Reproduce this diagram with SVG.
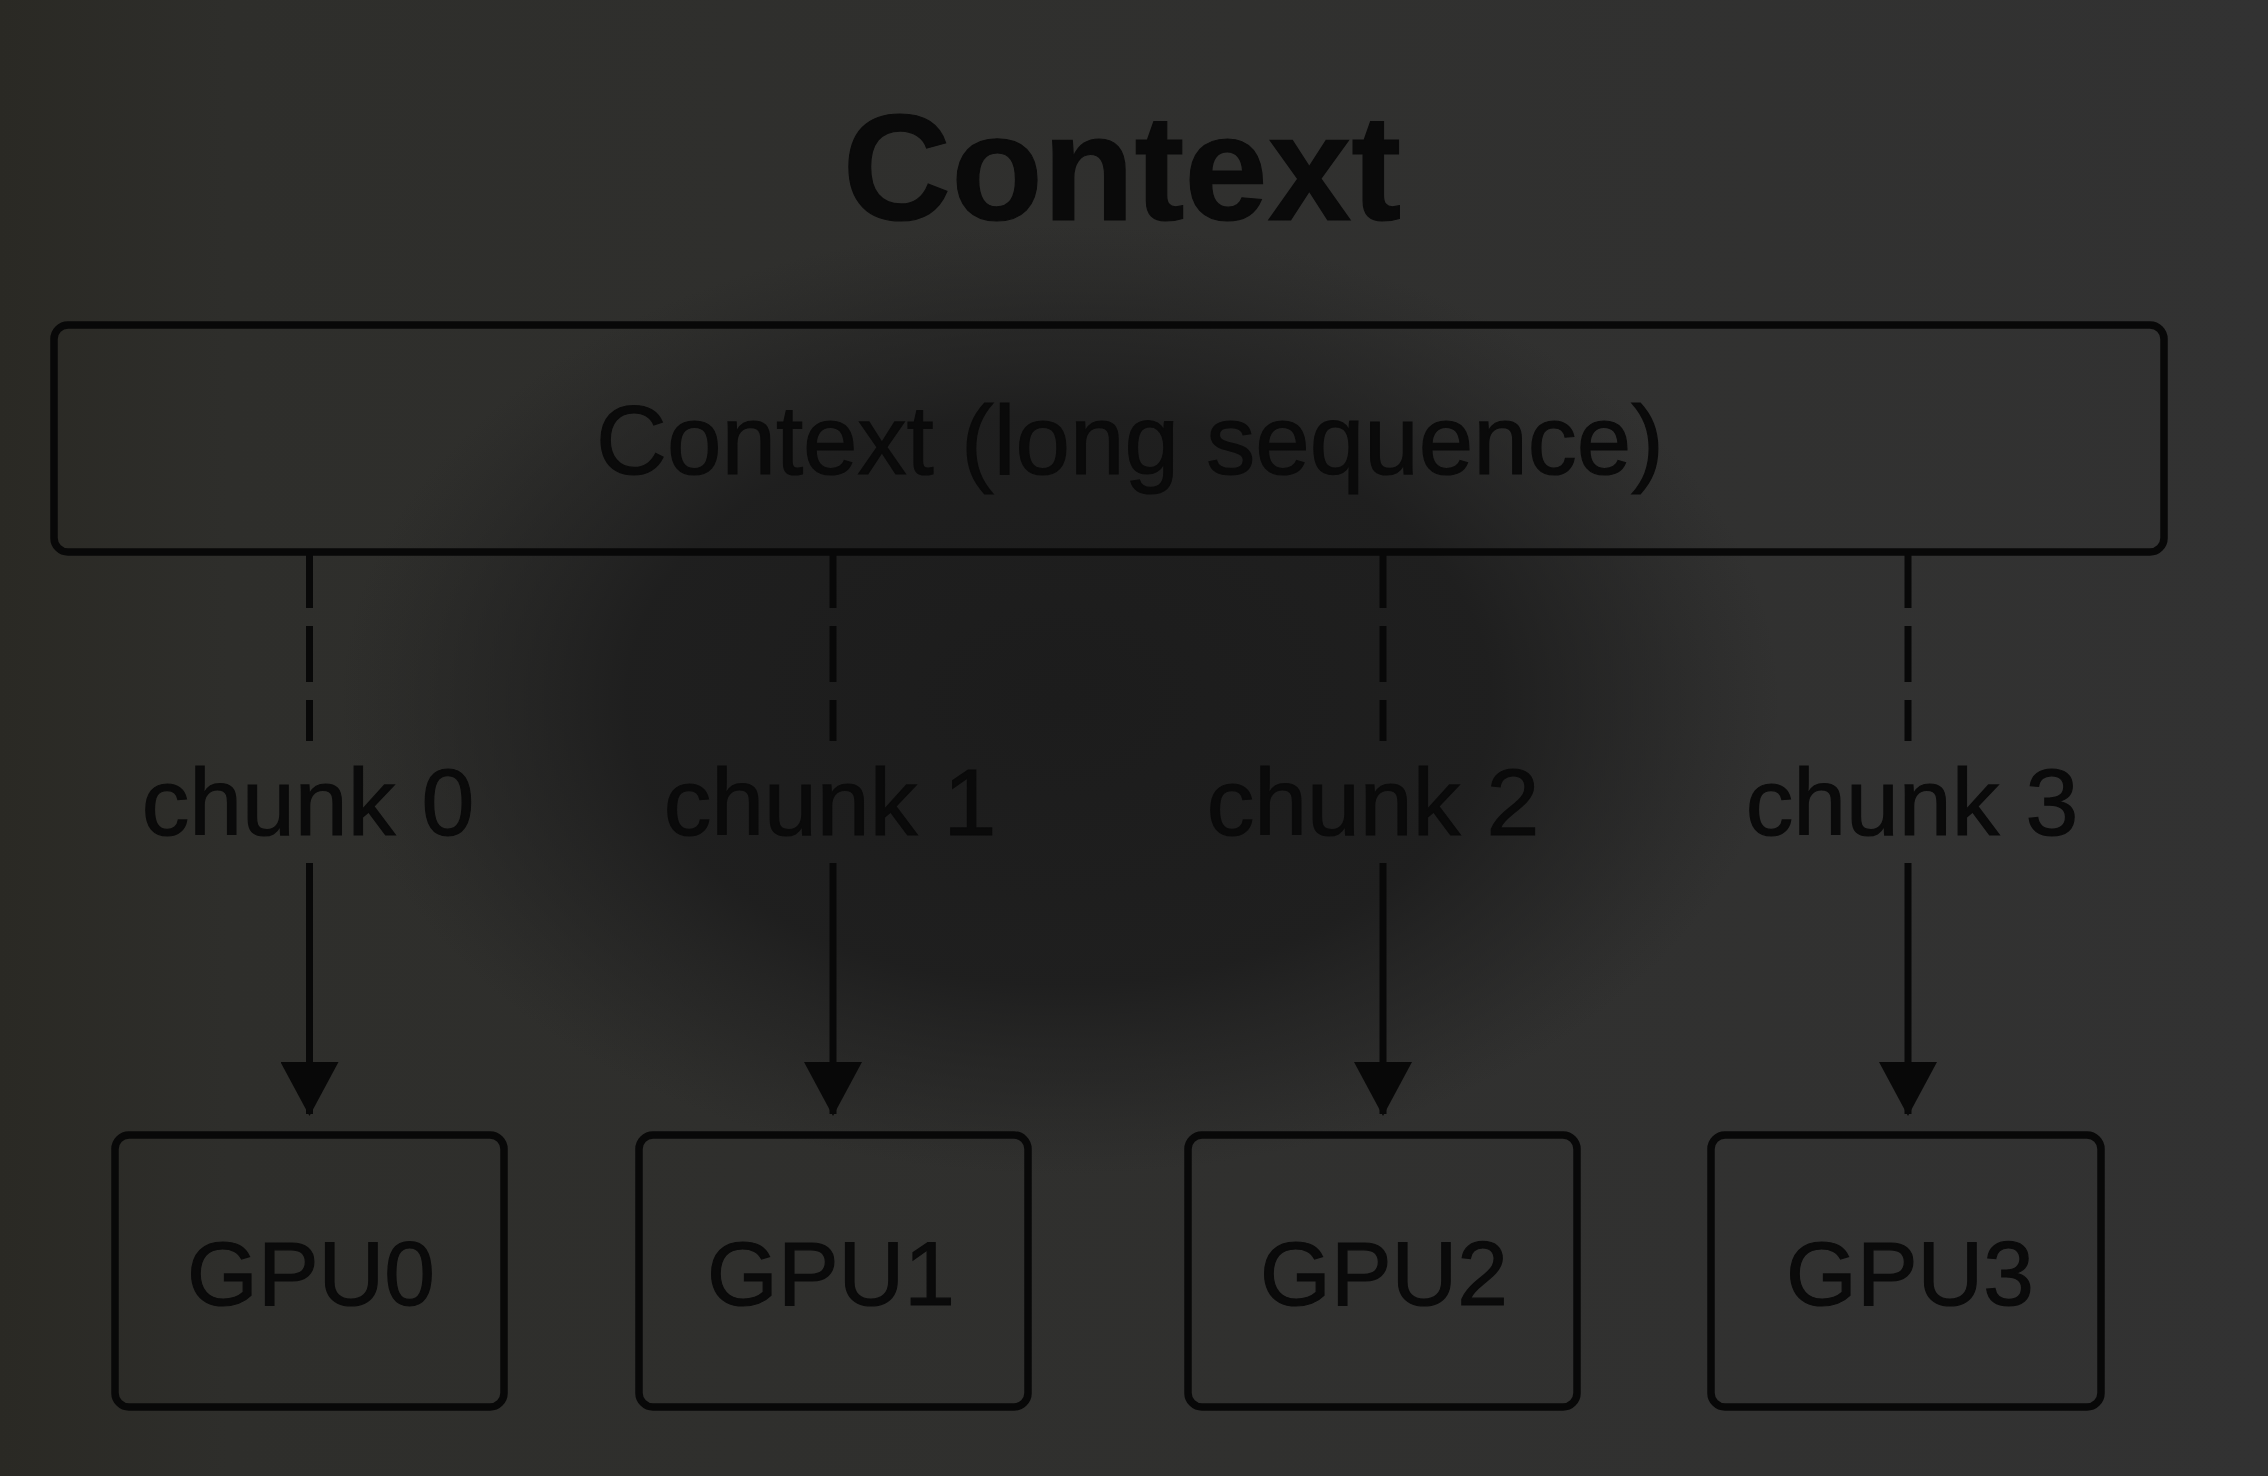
<svg xmlns="http://www.w3.org/2000/svg" width="2268" height="1476" viewBox="0 0 2268 1476">
<defs>
<linearGradient id="bgx" x1="0" y1="0" x2="1" y2="0">
<stop offset="0" stop-color="#2a2924"/>
<stop offset="0.1" stop-color="#2e2e2b"/>
<stop offset="1" stop-color="#323232"/>
</linearGradient>
<radialGradient id="vig" cx="1060" cy="700" r="720" gradientUnits="userSpaceOnUse" gradientTransform="translate(1060 700) scale(1 0.66) translate(-1060 -700)">
<stop offset="0" stop-color="#1c1c1c" stop-opacity="1"/>
<stop offset="0.6" stop-color="#1d1d1d" stop-opacity="0.9"/>
<stop offset="0.82" stop-color="#202020" stop-opacity="0.45"/>
<stop offset="1" stop-color="#222222" stop-opacity="0"/>
</radialGradient>
<marker id="arr" markerWidth="54" markerHeight="58" refX="52" refY="29" orient="auto" markerUnits="userSpaceOnUse" viewBox="0 0 54 58">
<path d="M0,0 L54,29 L0,58 Z" fill="#080808"/>
</marker>
<style>
.box{fill:none;stroke:#080808;stroke-width:7.5}
.lbl{font-family:"Liberation Sans",Arial,sans-serif;fill:#0a0a0a;stroke:#0a0a0a;stroke-width:1.2;text-anchor:middle}
.dash{stroke:#080808;stroke-width:7;stroke-dasharray:56 18;fill:none}
.solid{stroke:#080808;stroke-width:7;fill:none}
</style>
</defs>
<rect x="0" y="0" width="2268" height="1476" fill="url(#bgx)"/>
<rect x="0" y="0" width="2268" height="1476" fill="url(#vig)"/>
<g id="title">
<text class="lbl" x="1122" y="220" font-size="150" font-weight="bold">Context</text>
</g>
<g id="context">
<rect class="box" x="54" y="325" width="2110" height="227" rx="14"/>
<text class="lbl" x="1130" y="474" font-size="98">Context (long sequence)</text>
</g>
<g id="connectors">
<line class="dash" x1="309.5" y1="552" x2="309.5" y2="741"/>
<line class="dash" x1="833" y1="552" x2="833" y2="741"/>
<line class="dash" x1="1383" y1="552" x2="1383" y2="741"/>
<line class="dash" x1="1908" y1="552" x2="1908" y2="741"/>
<text class="lbl" x="308" y="835" font-size="95">chunk 0</text>
<text class="lbl" x="830" y="835" font-size="95">chunk 1</text>
<text class="lbl" x="1373" y="835" font-size="95">chunk 2</text>
<text class="lbl" x="1912" y="835" font-size="95">chunk 3</text>
<line class="solid" x1="309.5" y1="863" x2="309.5" y2="1114" marker-end="url(#arr)"/>
<line class="solid" x1="833" y1="863" x2="833" y2="1114" marker-end="url(#arr)"/>
<line class="solid" x1="1383" y1="863" x2="1383" y2="1114" marker-end="url(#arr)"/>
<line class="solid" x1="1908" y1="863" x2="1908" y2="1114" marker-end="url(#arr)"/>
</g>
<g id="gpu0">
<rect class="box" x="115" y="1135" width="389" height="272" rx="14"/>
<text class="lbl" x="311" y="1305" font-size="91">GPU0</text>
</g>
<g id="gpu1">
<rect class="box" x="639" y="1135" width="389" height="272" rx="14"/>
<text class="lbl" x="831" y="1305" font-size="91">GPU1</text>
</g>
<g id="gpu2">
<rect class="box" x="1188" y="1135" width="389" height="272" rx="14"/>
<text class="lbl" x="1384" y="1305" font-size="91">GPU2</text>
</g>
<g id="gpu3">
<rect class="box" x="1711" y="1135" width="390" height="272" rx="14"/>
<text class="lbl" x="1910" y="1305" font-size="91">GPU3</text>
</g>
</svg>
